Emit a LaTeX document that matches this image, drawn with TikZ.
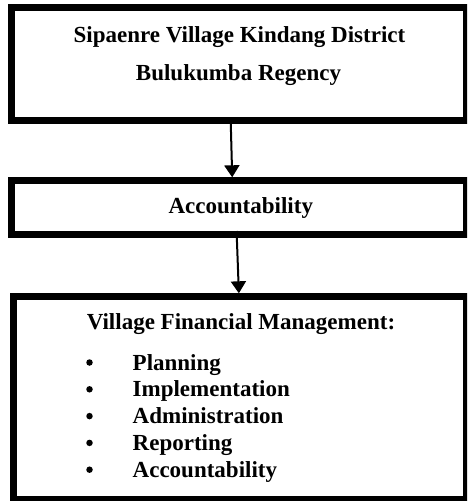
\documentclass[tikz,border=0pt]{standalone}
\usepackage{fontspec}
\setmainfont{Liberation Serif}
\usetikzlibrary{arrows.meta}
\tikzset{
  frame/.style={draw=black, line width=6.7pt, inner sep=0pt, outer sep=0pt},
  lbl/.style={anchor=base, inner sep=0pt, font=\fontsize{23}{27}\selectfont\bfseries},
  itm/.style={anchor=base west, inner sep=0pt, font=\fontsize{23}{27}\selectfont\bfseries},
  dot/.style={circle, fill=black, inner sep=0pt, minimum size=6.5pt},
  conn/.style={line width=2pt, -{Triangle[length=12pt,width=15pt]}, shorten <=-3.3pt, shorten >=3.4pt},
}
\begin{document}
\begin{tikzpicture}[x=1pt,y=-1pt]
\useasboundingbox (0,0) rectangle (467,501);
\begin{scope}
\clip (0,0) rectangle (467,501);
\node[frame, minimum width=455.2pt, minimum height=113pt] (b1) at (238.9,64.2) {};
\node[frame, minimum width=455.2pt, minimum height=53.6pt] (b2) at (238.9,207.5) {};
\node[frame, minimum width=453.2pt, minimum height=202.8pt] (b3) at (239.9,398.1) {};
\end{scope}
\node[lbl] (t1) at (239.5,42.3) {Sipaenre Village Kindang District};
\node[lbl] (t2) at (238.5,80) {Bulukumba Regency};
\node[lbl] (t3) at (240.8,213.3) {Accountability};
\node[lbl] (t4) at (241,329.3) {Village Financial Management:};
\foreach \name/\txt [count=\i from 0] in {i1/Planning,i2/Implementation,i3/Administration,i4/Reporting,i5/Accountability}{
  \node[itm] (\name) at (132.5,370+26.8*\i) {\txt};
  \node[dot] (d\name) at (89.5,370+26.8*\i-7.5) {};
}
\draw[conn] ([xshift=-8.2pt]b1.south) -- ([xshift=-6.6pt]b2.north);
\draw[conn] ([xshift=-2.2pt]b2.south) -- ([xshift=-0.9pt]b3.north);
\end{tikzpicture}
\end{document}
